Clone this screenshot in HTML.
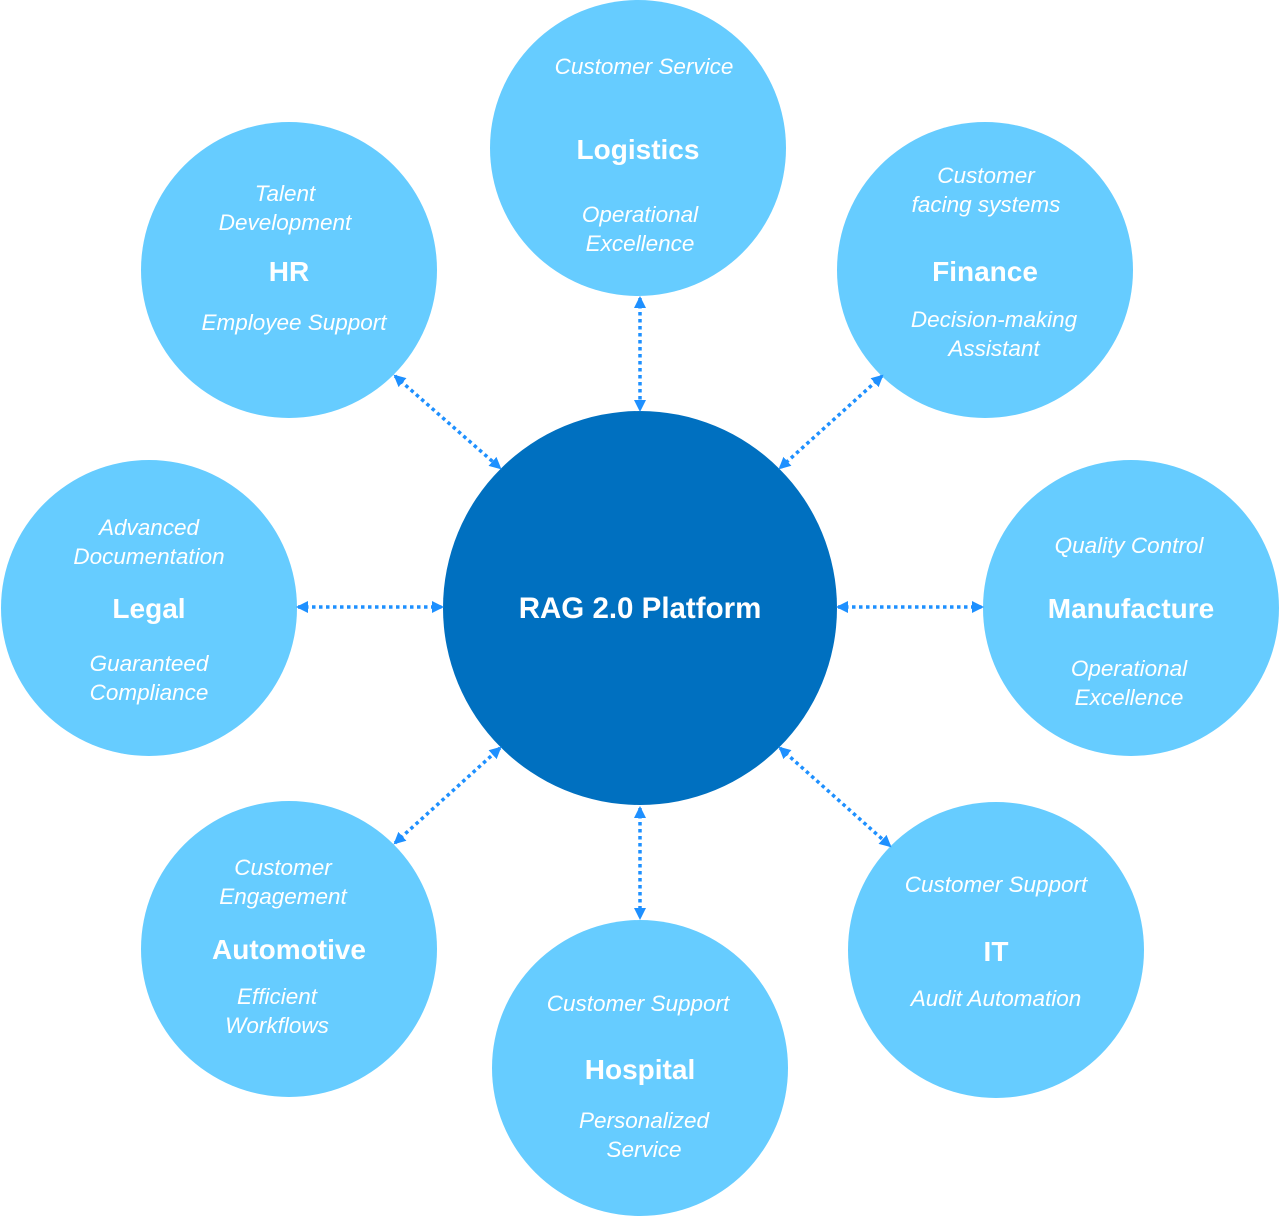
<!DOCTYPE html>
<html><head><meta charset="utf-8"><style>
html,body{margin:0;padding:0;background:#fff;}
svg{display:block;}
.i{font-family:"Liberation Sans",sans-serif;font-style:italic;font-size:22.5px;fill:#fff;text-anchor:middle;}
.b{font-family:"Liberation Sans",sans-serif;font-weight:bold;font-size:28px;fill:#fff;text-anchor:middle;}
.l{stroke:#1E90FF;stroke-width:3.5;stroke-dasharray:3.5 3.5;fill:none;marker-start:url(#a);marker-end:url(#a);}
</style></head><body>
<svg width="1280" height="1216" viewBox="0 0 1280 1216">
<defs><marker id="a" markerWidth="12" markerHeight="12" refX="10" refY="6" orient="auto-start-reverse" markerUnits="userSpaceOnUse"><path d="M0,0 L12,6 L0,12 z" fill="#1E90FF"/></marker></defs>
<g fill="#66CCFF">
<circle cx="638" cy="148" r="148"/>
<circle cx="289" cy="270" r="148"/>
<circle cx="985" cy="270" r="148"/>
<circle cx="149" cy="608" r="148"/>
<circle cx="1131" cy="608" r="148"/>
<circle cx="289" cy="949" r="148"/>
<circle cx="640" cy="1068" r="148"/>
<circle cx="996" cy="950" r="148"/>
</g>
<circle cx="640" cy="608" r="197" fill="#0070C0"/>
<line class="l" x1="640" y1="298" x2="640" y2="410"/>
<line class="l" x1="395" y1="376" x2="500" y2="468"/>
<line class="l" x1="882" y1="376" x2="780" y2="468"/>
<line class="l" x1="298" y1="607" x2="442" y2="607"/>
<line class="l" x1="838" y1="607" x2="982" y2="607"/>
<line class="l" x1="395" y1="843" x2="500" y2="748"/>
<line class="l" x1="640" y1="808" x2="640" y2="918"/>
<line class="l" x1="780" y1="748" x2="890" y2="846"/>
<text class="b" x="640" y="618" style="font-size:29.5px">RAG 2.0 Platform</text>
<text class="i" x="644" y="74">Customer Service</text>
<text class="b" x="638" y="159">Logistics</text>
<text class="i" x="640" y="222">Operational</text>
<text class="i" x="640" y="251">Excellence</text>
<text class="i" x="285" y="201">Talent</text>
<text class="i" x="285" y="230">Development</text>
<text class="b" x="289" y="281">HR</text>
<text class="i" x="294" y="330">Employee Support</text>
<text class="i" x="986" y="183">Customer</text>
<text class="i" x="986" y="212">facing systems</text>
<text class="b" x="985" y="281">Finance</text>
<text class="i" x="994" y="327">Decision-making</text>
<text class="i" x="994" y="356">Assistant</text>
<text class="i" x="149" y="535">Advanced</text>
<text class="i" x="149" y="564">Documentation</text>
<text class="b" x="149" y="618">Legal</text>
<text class="i" x="149" y="671">Guaranteed</text>
<text class="i" x="149" y="700">Compliance</text>
<text class="i" x="1129" y="553">Quality Control</text>
<text class="b" x="1131" y="618">Manufacture</text>
<text class="i" x="1129" y="676">Operational</text>
<text class="i" x="1129" y="705">Excellence</text>
<text class="i" x="283" y="875">Customer</text>
<text class="i" x="283" y="904">Engagement</text>
<text class="b" x="289" y="959">Automotive</text>
<text class="i" x="277" y="1004">Efficient</text>
<text class="i" x="277" y="1033">Workflows</text>
<text class="i" x="638" y="1011">Customer Support</text>
<text class="b" x="640" y="1079">Hospital</text>
<text class="i" x="644" y="1128">Personalized</text>
<text class="i" x="644" y="1157">Service</text>
<text class="i" x="996" y="892">Customer Support</text>
<text class="b" x="996" y="961">IT</text>
<text class="i" x="996" y="1006">Audit Automation</text>
</svg>
</body></html>
